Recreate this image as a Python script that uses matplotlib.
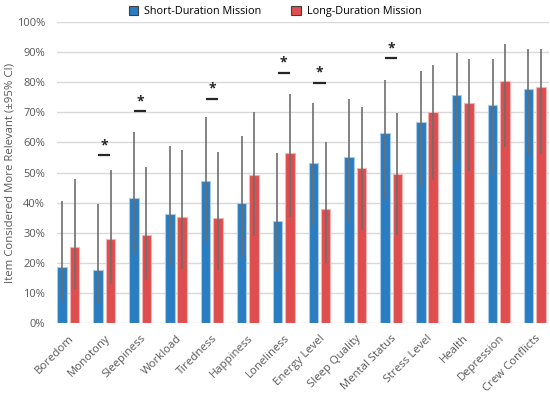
import matplotlib
matplotlib.use('Agg')
from matplotlib import pyplot as plt
import numpy as np

plt.rcParams['font.family'] = ['Open Sans', 'DejaVu Sans']

# Data (percent)
categories = ['Boredom', 'Monotony', 'Sleepiness', 'Workload', 'Tiredness', 'Happiness',
              'Loneliness', 'Energy Level', 'Sleep Quality', 'Mental Status', 'Stress Level',
              'Health', 'Depression', 'Crew Conflicts']
short_vals = [18.6, 17.7, 41.5, 36.3, 47.3, 40.0, 34.0, 53.1, 55.1, 63.1, 66.8, 75.7, 72.5, 77.9]
long_vals = [25.4, 28.0, 29.4, 35.1, 34.8, 49.3, 56.5, 38.0, 51.5, 49.4, 70.1, 73.0, 80.6, 78.4]
short_lo = [6.9, 6.5, 23.0, 19.0, 27.4, 21.6, 17.1, 32.3, 33.7, 41.2, 44.8, 53.4, 50.0, 55.6]
short_hi = [40.4, 39.6, 63.4, 58.7, 68.4, 62.2, 56.5, 73.0, 74.6, 80.8, 83.6, 89.7, 87.7, 91.0]
long_lo = [11.3, 13.0, 14.2, 17.9, 17.7, 29.0, 35.4, 19.9, 30.8, 29.3, 47.6, 50.4, 58.4, 56.1]
long_hi = [48.0, 51.0, 52.0, 57.6, 57.0, 70.2, 76.0, 60.0, 71.8, 69.9, 85.8, 87.8, 92.8, 91.0]
# significance markers: category index -> height of the bar
sig_idx = [1, 2, 4, 6, 7, 9]
sig_y = [55.7, 70.3, 74.5, 83.2, 79.9, 88.0]

blue = '#2A7DC0'
red = '#DE4E4E'
grey_txt = '#595959'

fig = plt.figure(figsize=(5.5, 3.98), dpi=100)
ax = fig.add_axes([0.1036, 0.1884, 0.8945, 0.756])

x = np.arange(len(categories))
w = 0.265
off = 0.173

ax.bar(x - off, short_vals, w, color=blue, edgecolor='#A9CBE8', linewidth=0.8, zorder=2,
       label='Short-Duration Mission')
ax.bar(x + off, long_vals, w, color=red, edgecolor='#F3B3B3', linewidth=0.8, zorder=2,
       label='Long-Duration Mission')

ax.vlines(x - off, short_lo, short_hi, color='#6E6E6E', lw=1.2, zorder=3)
ax.vlines(x + off, long_lo, long_hi, color='#6E6E6E', lw=1.2, zorder=3)

# significance bars and stars
for i, y in zip(sig_idx, sig_y):
    ax.hlines(y, i - 0.17, i + 0.17, color='#262626', lw=1.6, zorder=3)
    ax.text(i, y + 1.0, '*', ha='center', va='bottom', fontsize=10, fontweight='bold',
            color='#262626')

ax.set_xlim(-0.32, 13.4)
ax.set_ylim(0, 100)
ax.set_yticks(np.arange(0, 101, 10))
ax.set_yticklabels([f'{v}%' for v in range(0, 101, 10)])
ax.yaxis.grid(True, color='#D9D9D9', lw=1)
ax.set_axisbelow(True)
for s in ax.spines.values():
    s.set_visible(False)
ax.tick_params(length=0, colors=grey_txt, labelsize=8)
ax.tick_params(axis='y', pad=8.5)

ax.set_xticks(x)
ax.set_xticklabels(categories, rotation=45, ha='right', rotation_mode='anchor', fontsize=8.2)
ax.tick_params(axis='x', pad=7)

ax.set_ylabel('Item Considered More Relevant (±95% CI)', color=grey_txt, fontsize=8.2,
              labelpad=1)

leg = fig.legend(loc='upper center', bbox_to_anchor=(0.5, 1.01), ncol=2, frameon=False,
                 fontsize=7.8, handlelength=0.9, handleheight=0.9, columnspacing=2.8,
                 handletextpad=0.5)
for p in leg.get_patches():
    p.set_edgecolor('#404040')
    p.set_linewidth(0.8)

plt.savefig('out.png', dpi=100)
